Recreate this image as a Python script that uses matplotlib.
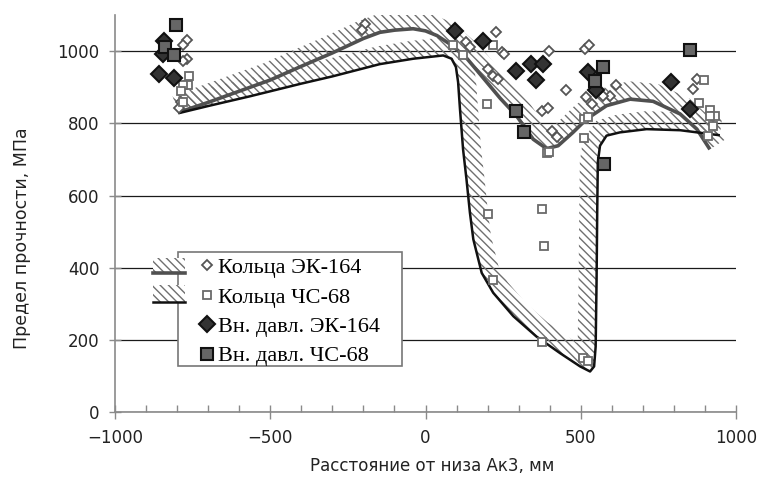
import numpy as np
import matplotlib
matplotlib.use('Agg')
import matplotlib.pyplot as plt
from matplotlib.patches import Polygon, Rectangle
from matplotlib.lines import Line2D
from matplotlib.ticker import MultipleLocator, FixedLocator

# ---------------- data ----------------
# Rings, EK-164 (open diamonds)
ring_ek_x = [-769, -782, -769, -780, -786, -793, -195, -205, 132, 143, 227, 245, 253,
             202, 218, 234, 399, 514, 527, 451, 613, 594, 517, 535, 573, 374, 395,
             409, 424, 873, 862]
ring_ek_y = [1032, 1018, 979, 974, 858, 842, 1075, 1058, 1025, 1011, 1053, 997, 993,
             951, 932, 923, 999, 1006, 1016, 893, 905, 877, 872, 854, 877, 835, 842,
             779, 761, 923, 895]
# Rings, CS-68 (open squares)
ring_cs_x = [-761, -764, -780, -787, -780, 90, 120, 218, 199, 200, 218, 374, 382, 374,
             390, 398, 510, 524, 510, 508, 524, 897, 882, 916, 932, 916, 927, 910]
ring_cs_y = [930, 906, 906, 890, 858, 1016, 988, 1016, 854, 550, 367, 562, 460, 196,
             717, 720, 812, 817, 759, 150, 142, 921, 856, 837, 819, 819, 793, 766]
# Internal pressure, EK-164 (dark diamonds)
press_ek_x = [-842, -844, -857, -809, 95, 184, 293, 341, 379, 357, 524, 549, 791, 852]
press_ek_y = [1027, 993, 937, 925, 1057, 1029, 946, 965, 965, 921, 943, 891, 914, 840]
# Internal pressure, CS-68 (grey squares)
press_cs_x = [-805, -839, -809, 290, 317, 573, 546, 575, 852]
press_cs_y = [1073, 1011, 988, 835, 775, 955, 918, 687, 1002]

# Trend curves
curve_ek_x = [-797, -700, -600, -500, -400, -300, -200, -147, -100, -40, 0, 37, 85, 134,
              175, 240, 293, 347, 390, 427, 475, 519, 583, 659, 733, 820, 874, 916]
curve_ek_y = [830, 858, 889, 920, 958, 995, 1035, 1052, 1058, 1062, 1056, 1043, 1016, 979,
              937, 870, 821, 756, 730, 738, 775, 812, 849, 867, 861, 826, 784, 728]
curve_cs_x = [-796, -700, -565, -400, -300, -147, -39, 57, 84, 98, 105, 111, 116, 121, 132,
              143, 154, 181, 218, 283, 357, 433, 498, 530, 543, 548, 551, 553, 555, 562,
              583, 626, 712, 820, 948]
curve_cs_y = [828, 848, 875, 910, 930, 964, 979, 988, 979, 956, 914, 840, 784, 728, 645,
              553, 479, 386, 331, 266, 210, 164, 127, 113, 127, 182, 368, 553, 692, 738,
              766, 775, 784, 781, 767]

x_ticks = [-1000, -500, 0, 500, 1000]
x_tick_labels = ['\u22121000', '\u2212500', '0', '500', '1000']
y_ticks = [0, 200, 400, 600, 800, 1000]

labels = ['Кольца ЭК-164', 'Кольца ЧС-68', 'Вн. давл. ЭК-164', 'Вн. давл. ЧС-68']

# ---------------- figure ----------------
W, H = 760, 478
fig = plt.figure(figsize=(W / 100, H / 100), dpi=100)
ax_l, ax_r, ax_t, ax_b = 115, 736, 15, 412.3
ax = fig.add_axes([ax_l / W, 1 - ax_b / H, (ax_r - ax_l) / W, (ax_b - ax_t) / H])
ax.set_xlim(-1000, 1000)
ax.set_ylim(0, 1100)

for s in ['top', 'right']:
    ax.spines[s].set_visible(False)
for s in ['left', 'bottom']:
    ax.spines[s].set_color('#8a8a8a')
    ax.spines[s].set_linewidth(1.2)

ax.yaxis.set_major_locator(FixedLocator(y_ticks))
ax.set_xticks(x_ticks)
ax.set_xticklabels(x_tick_labels)
ax.xaxis.set_minor_locator(MultipleLocator(100))
ax.yaxis.grid(True, color='#1a1a1a', linewidth=0.9)
ax.set_axisbelow(True)
ax.tick_params(axis='y', direction='inout', length=8, color='#8a8a8a', width=1,
               labelsize=12, pad=7, labelcolor='#222')
ax.tick_params(axis='x', which='major', direction='inout', length=10, color='#8a8a8a',
               width=1, labelsize=12, pad=7, labelcolor='#222')
ax.tick_params(axis='x', which='minor', direction='in', length=5, color='#8a8a8a', width=1)
ax.set_xlabel('Расстояние от низа Ак3, мм', fontsize=12, color='#222')
ax.set_ylabel('Предел прочности, МПа', fontsize=12.5, color='#222')
ax.xaxis.set_label_coords((432 - ax_l) / (ax_r - ax_l), (ax_b - 457) / (ax_b - ax_t))
ax.yaxis.set_label_coords((31 - ax_l) / (ax_r - ax_l), (ax_b - 238) / (ax_b - ax_t))

HATCH = '\\\\\\\\'
HCOL = '#6f6f6f'


def band(x, y, width_px, z):
    pts = ax.transData.transform(np.column_stack([x, y]))
    d = np.gradient(pts, axis=0)
    n = np.column_stack([-d[:, 1], d[:, 0]])
    n /= np.linalg.norm(n, axis=1)[:, None]
    off = pts + width_px * n
    poly = np.vstack([pts, off[::-1]])
    data = ax.transData.inverted().transform(poly)
    ax.add_patch(Polygon(data, closed=True, facecolor='none', edgecolor=HCOL,
                         linewidth=0, hatch=HATCH, zorder=z))


plt.rcParams['hatch.linewidth'] = 1.0
band(curve_ek_x, curve_ek_y, 18, 2)
band(curve_cs_x, curve_cs_y, 18, 2)
ax.plot(curve_ek_x, curve_ek_y, color='#505050', lw=2.6, solid_joinstyle='round',
        solid_capstyle='butt', zorder=3)
ax.plot(curve_cs_x, curve_cs_y, color='#111111', lw=1.8, solid_joinstyle='round',
        solid_capstyle='butt', zorder=3)

ax.plot(ring_ek_x, ring_ek_y, ls='none', marker='D', ms=5, mfc='white', mec='#555555',
        mew=1.3, zorder=4)
ax.plot(ring_cs_x, ring_cs_y, ls='none', marker='s', ms=6, mfc='white', mec='#6a6a6a',
        mew=1.3, zorder=4)
ax.plot(press_ek_x, press_ek_y, ls='none', marker='D', ms=8.5, mfc='#333333', mec='#111111',
        mew=1.5, zorder=5)
ax.plot(press_cs_x, press_cs_y, ls='none', marker='s', ms=9, mfc='#666666', mec='#111111',
        mew=1.5, zorder=5)

# ---------------- legend ----------------
frame = Rectangle((178 / W, 1 - 366 / H), (402 - 178) / W, (366 - 252) / H,
                  transform=fig.transFigure, facecolor='white', edgecolor='#777777',
                  linewidth=1.2, zorder=6)
fig.add_artist(frame)

h1 = Line2D([], [], ls='none', marker='D', ms=5, mfc='white', mec='#555555', mew=1.3)
h2 = Line2D([], [], ls='none', marker='s', ms=6, mfc='white', mec='#6a6a6a', mew=1.3)
h3 = Line2D([], [], ls='none', marker='D', ms=8.5, mfc='#333333', mec='#111111', mew=1.5)
h4 = Line2D([], [], ls='none', marker='s', ms=9, mfc='#666666', mec='#111111', mew=1.5)
leg = fig.legend([h1, h2, h3, h4], labels, loc='upper left',
                 bbox_to_anchor=(196 / W, 1 - 257.5 / H), bbox_transform=fig.transFigure,
                 borderaxespad=0, frameon=False, handlelength=1.0, handletextpad=0.0,
                 labelspacing=0.4, borderpad=0,
                 prop={'family': 'Liberation Serif', 'size': 16})
leg.set_zorder(7)

for (y0, y1, col, lw) in [(258, 273, '#505050', 2.6), (285, 302, '#111111', 1.8)]:
    r = Rectangle((153 / W, 1 - y1 / H), 32 / W, (y1 - y0) / H, transform=fig.transFigure,
                  facecolor='white', edgecolor=HCOL, linewidth=0, hatch=HATCH,
                  zorder=8)
    fig.add_artist(r)
    fig.add_artist(Line2D([153 / W, 185 / W], [1 - y1 / H, 1 - y1 / H],
                          transform=fig.transFigure, color=col, lw=lw, zorder=9))

fig.savefig('out.png', dpi=100)
